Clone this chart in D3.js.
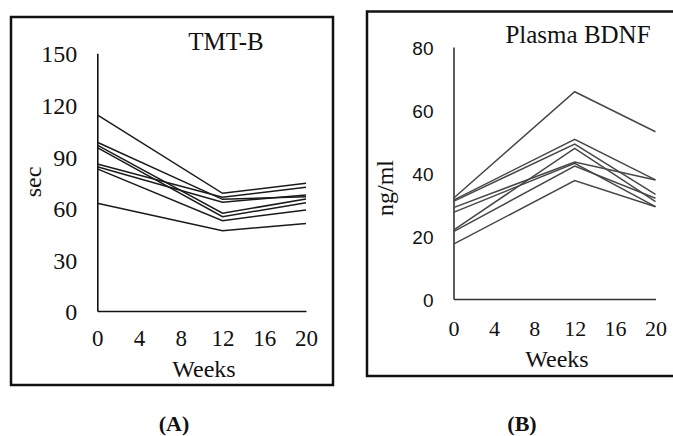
<!DOCTYPE html>
<html>
<head>
<meta charset="utf-8">
<script src="https://cdn.jsdelivr.net/npm/d3@7"></script>
<style>
  body { margin: 0; background: #fff; }
  svg { display: block; }
  text { font-family: "Liberation Serif", "Times New Roman", serif; fill: #111; }
</style>
</head>
<body>
<svg id="chart" width="673" height="436"></svg>
<script>
// ---- data ----
const weeks = [0, 12, 20];
const xTickLabels = [0, 4, 8, 12, 16, 20];

const tmtTicks = [0, 30, 60, 90, 120, 150];
const tmtSeries = [
  [114.1, 68.5, 74.3],
  [98.2, 65.0, 66.5],
  [96.6, 56.9, 65.2],
  [95.1, 54.9, 63.0],
  [85.6, 66.2, 72.0],
  [84.0, 63.3, 67.5],
  [82.7, 52.6, 58.8],
  [62.7, 46.7, 51.0]
];

const bdnfTicks = [0, 20, 40, 60, 80];
const bdnfSeries = [
  [32.0, 65.8, 53.1],
  [31.4, 50.7, 37.8],
  [31.0, 49.2, 33.2],
  [21.9, 47.8, 30.9],
  [29.0, 43.5, 37.8],
  [27.5, 43.1, 29.3],
  [21.4, 42.2, 32.0],
  [17.4, 37.6, 29.3]
];

const svg = d3.select("#chart");

function panel(opt) {
  const g = svg.append("g");
  // frame
  g.append("rect")
    .attr("x", opt.frame[0]).attr("y", opt.frame[1])
    .attr("width", opt.frame[2]).attr("height", opt.frame[3])
    .attr("fill", "none").attr("stroke", "#111").attr("stroke-width", 2.5);

  const x = d3.scaleLinear().domain([0, 20]).range(opt.xr);
  const y = d3.scaleLinear().domain([0, opt.yMax]).range(opt.yr);

  // y axis
  const ya = g.append("g")
    .attr("transform", `translate(${opt.xr[0]},0)`)
    .call(d3.axisLeft(y).tickValues(opt.yTicks).tickSize(0).tickSizeOuter(0).tickPadding(20));
  ya.select(".domain").attr("stroke", opt.axisColor).attr("stroke-width", 1.6);
  ya.selectAll("text")
    .style("font-family", opt.yFont)
    .style("font-size", opt.yFontSize + "px")
    .attr("fill", "#111")
    .attr("dy", opt.yDy);

  // x axis
  const xa = g.append("g")
    .attr("transform", `translate(0,${opt.yr[0]})`)
    .call(d3.axisBottom(x).tickValues(xTickLabels).tickSize(0).tickSizeOuter(0).tickPadding(opt.xPad));
  xa.select(".domain").attr("stroke", opt.axisColor).attr("stroke-width", 1.6);
  xa.selectAll("text")
    .style("font-family", '"Liberation Serif", serif')
    .style("font-size", opt.xFontSize + "px")
    .attr("fill", "#111");

  // lines
  const line = d3.line().x((d, i) => x(weeks[i])).y(d => y(d));
  g.selectAll("path.series")
    .data(opt.series)
    .join("path")
    .attr("class", "series")
    .attr("d", line)
    .attr("fill", "none")
    .attr("stroke", opt.lineColor)
    .attr("stroke-width", 1.5);

  // title
  g.append("text")
    .attr("x", opt.title[1]).attr("y", opt.title[2])
    .attr("text-anchor", "middle")
    .style("font-size", "25px")
    .text(opt.title[0]);

  // x label
  g.append("text")
    .attr("x", opt.xLabel[0]).attr("y", opt.xLabel[1])
    .attr("text-anchor", "middle")
    .style("font-size", "24px")
    .text("Weeks");

  // y label
  g.append("text")
    .attr("transform", `translate(${opt.yLabel[1]},${opt.yLabel[2]}) rotate(-90)`)
    .attr("text-anchor", "middle")
    .style("font-size", "24px")
    .text(opt.yLabel[0]);

  // caption
  svg.append("text")
    .attr("x", opt.caption[1]).attr("y", opt.caption[2])
    .attr("text-anchor", "middle")
    .style("font-size", "22px")
    .style("font-weight", "bold")
    .text(opt.caption[0]);
}

panel({
  frame: [11, 17, 322, 368],
  xr: [97.3, 306], yr: [311, 53.3], yMax: 150,
  yTicks: tmtTicks, series: tmtSeries,
  yFont: '"Liberation Serif", serif', yFontSize: 24, yDy: "0.36em",
  xFontSize: 23, xPad: 19,
  axisColor: "#111", lineColor: "#1a1a1a",
  title: ["TMT-B", 226, 50],
  xLabel: [204, 377],
  yLabel: ["sec", 41, 182],
  caption: ["(A)", 174, 431]
});

panel({
  frame: [367, 11.5, 312, 364.5],
  xr: [453.5, 655.5], yr: [299, 47], yMax: 80,
  yTicks: bdnfTicks, series: bdnfSeries,
  yFont: '"Liberation Sans", Arial, sans-serif', yFontSize: 19, yDy: "0.4em",
  xFontSize: 22, xPad: 21,
  axisColor: "#333", lineColor: "#474747",
  title: ["Plasma BDNF", 578, 43],
  xLabel: [557, 367],
  yLabel: ["ng/ml", 393, 188],
  caption: ["(B)", 522, 431]
});
</script>
</body>
</html>
